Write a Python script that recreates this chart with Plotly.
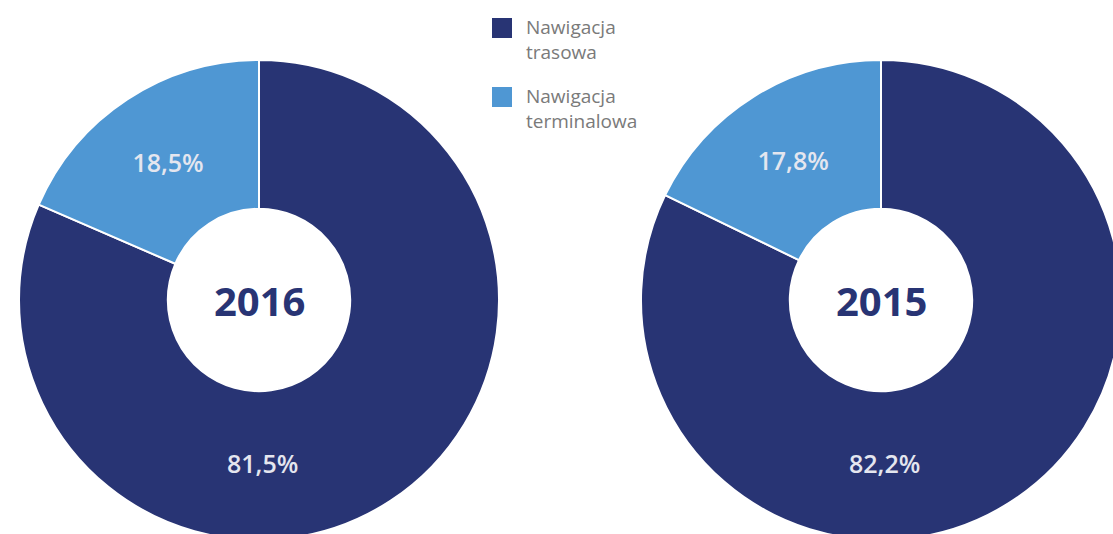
import plotly.graph_objects as go

labels = ["Nawigacja trasowa", "Nawigacja terminalowa"]
legend_text = ["Nawigacja<br>trasowa", "Nawigacja<br>terminalowa"]
values_2016 = [81.5, 18.5]
values_2015 = [82.2, 17.8]
years = ["2016", "2015"]
colors = ["#283474", "#4f97d3"]

W, H = 1130, 560
FONT = "Open Sans"

def dom(cx, cy, r):
    return dict(x=[(cx - r) / W, (cx + r) / W], y=[1 - (cy + r) / H, 1 - (cy - r) / H])

def fmt(v):
    return f"{v:.1f}%".replace(".", ",")

pct_font = dict(family=FONT, size=25, color="#e4e6ef", weight=600)

fig = go.Figure()
for vals, cx, yr in [(values_2016, 259, years[0]), (values_2015, 881, years[1])]:
    fig.add_trace(go.Pie(
        labels=labels, values=vals, sort=False, direction="clockwise", rotation=0,
        hole=0.38, domain=dom(cx, 300, 240),
        marker=dict(colors=colors, line=dict(color="white", width=2)),
        text=["", fmt(vals[1])],
        textinfo="text", textposition="inside", insidetextorientation="horizontal",
        textfont=pct_font,
        showlegend=False, hoverinfo="label+percent",
    ))
    # label of the large slice, placed at the bottom of the ring
    fig.add_annotation(x=(cx + 3) / W, y=1 - 463 / H, xref="paper", yref="paper",
                       xanchor="center", yanchor="middle",
                       text=fmt(vals[0]), showarrow=False, font=pct_font)
    fig.add_annotation(x=cx / W, y=1 - 300 / H, xref="paper", yref="paper",
                       xanchor="center", yanchor="middle",
                       text=f"<b>{yr}</b>", showarrow=False,
                       font=dict(family=FONT, size=40, color="#283474", weight=800))

for i, (txt, col) in enumerate(zip(legend_text, colors)):
    y0 = 18 + i * 69
    fig.add_shape(type="rect", xref="paper", yref="paper",
                  x0=492 / W, x1=512 / W, y0=1 - (y0 + 20) / H, y1=1 - y0 / H,
                  fillcolor=col, line=dict(width=0))
    fig.add_annotation(x=524 / W, y=1 - (y0 - 6) / H, xref="paper", yref="paper",
                       xanchor="left", yanchor="top", align="left", text=txt,
                       showarrow=False,
                       font=dict(family=FONT, size=19, color="#7a7a7a"))

fig.update_layout(width=W, height=H, margin=dict(l=0, r=0, t=0, b=0),
                  paper_bgcolor="white", plot_bgcolor="white")

fig.write_html("out.html", config={"displayModeBar": False},
               post_script="document.body.style.margin='0';document.body.style.overflow='hidden';document.documentElement.style.overflow='hidden';")
